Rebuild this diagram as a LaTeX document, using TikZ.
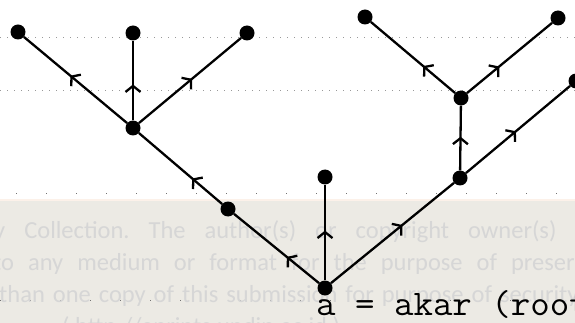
\documentclass[tikz,border=0pt]{standalone}
\usepackage{fontspec}
\newfontfamily\wmfont{Carlito}
\usetikzlibrary{decorations.markings,arrows.meta}
\definecolor{band}{RGB}{236,234,228}
\definecolor{bandedge}{RGB}{252,241,233}
\definecolor{wmtext}{RGB}{214,214,214}
\tikzset{
  dot/.style={circle,fill=black,inner sep=0pt,minimum size=15pt},
  edge/.style={line width=2.3pt,black},
  midarrow/.style={postaction={decorate},
    decoration={markings,mark=at position #1 with {\arrow{Straight Barb[length=6pt,width=15pt]}}}},
  rule/.style={black!40,line width=0.8pt,dash pattern=on 1pt off 6pt},
  rulesparse/.style={black!55,line width=0.8pt,dash pattern=on 1pt off 29pt},
  wm/.style={anchor=base west,inner sep=0pt,text=wmtext,font=\wmfont\fontsize{24.5}{24.5}\selectfont},
  lbl/.style={anchor=base west,inner sep=0pt,xscale=1.05,font=\ttfamily\fontsize{36}{36}\selectfont},
}
\begin{document}
\begin{tikzpicture}[x=1pt,y=-1pt]
\useasboundingbox (0,0) rectangle (575,323);
\clip (0,0) rectangle (575,323);
\fill[white] (0,0) rectangle (575,323);
% ruled paper lines
\draw[rule] (0,37) -- (575,37);
\draw[rule] (0,90) -- (575,90);
\draw[rulesparse] (16,193) -- (575,193);
% watermark band
\fill[band] (0,200) rectangle (575,323);
\fill[bandedge] (0,198.5) rectangle (575,201);
\draw[rulesparse] (0,300) -- (575,300);
\node[wm] (w1) at (-6,238) {\spaceskip=19pt\xspaceskip=19pt y Collection. The author(s) or copyright owner(s) agree};
\node[wm] (w2) at (-7,270) {\spaceskip=14pt\xspaceskip=14pt to any medium or format for the purpose of preservation.};
\node[wm] (w3) at (-1,302) {\spaceskip=8pt\xspaceskip=8pt than one copy of this submission for purpose of security,};
\node[wm] (w4) at (62,334) {( http://eprints.undip.ac.id )};
% tree nodes
\node[dot] (r) at (325,288) {};
\node[dot] (m) at (325,177) {};
\node[dot] (l1) at (228,209) {};
\node[dot] (L) at (133,128) {};
\node[dot] (La) at (18,32) {};
\node[dot] (Lb) at (133,33) {};
\node[dot] (Lc) at (247,33) {};
\node[dot] (R1) at (460,178) {};
\node[dot] (R2) at (461,98) {};
\node[dot] (R3) at (576,81) {};
\node[dot] (R2a) at (365,17) {};
\node[dot] (R2b) at (558,18) {};
% edges
\draw[edge,midarrow=0.38] (r) -- (l1);
\draw[edge,midarrow=0.36] (l1) -- (L);
\draw[edge,midarrow=0.55] (L) -- (La);
\draw[edge,midarrow=0.45] (L) -- (Lb);
\draw[edge,midarrow=0.52] (L) -- (Lc);
\draw[edge,midarrow=0.52] (r) -- (m);
\draw[edge,midarrow=0.58] (r) -- (R1);
\draw[edge,midarrow=0.52] (R1) -- (R2);
\draw[edge,midarrow=0.48] (R1) -- (R3);
\draw[edge,midarrow=0.38] (R2) -- (R2a);
\draw[edge,midarrow=0.38] (R2) -- (R2b);
% label
\node[lbl] (lab) at (316,315) {a = akar (root)};
\end{tikzpicture}
\end{document}
